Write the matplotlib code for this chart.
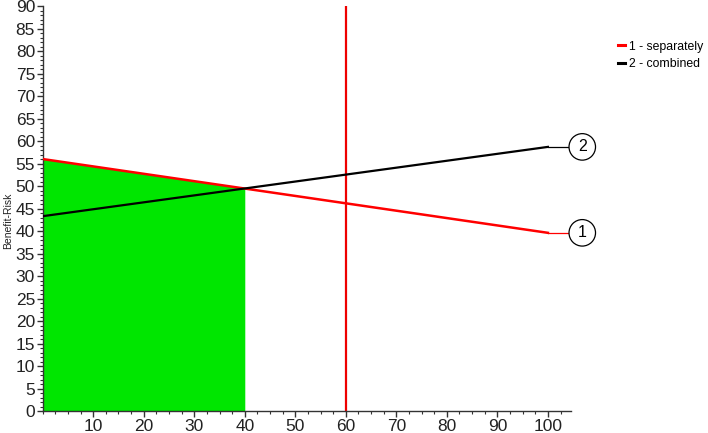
import matplotlib
matplotlib.use("Agg")
import matplotlib.pyplot as plt
from matplotlib.ticker import MultipleLocator
import numpy as np

plt.rcParams['font.family'] = ['Liberation Sans', 'DejaVu Sans']

x_vals = [0, 100]
separately = [56.0, 39.6]
combined = [43.3, 58.7]
series_names = ["1 - separately", "2 - combined"]
series_tags = ["1", "2"]
threshold_x = 60
fill_end = 40
x_ticks = [10, 20, 30, 40, 50, 60, 70, 80, 90, 100]
y_ticks = list(range(0, 95, 5))

fig = plt.figure(figsize=(7.08, 4.33), dpi=100)
ax = fig.add_axes([0.0603, 0.0508, 0.7457, 0.9352])

# green area under red line from 0 to 40
xf = np.linspace(0, fill_end, 50)
yf = np.interp(xf, x_vals, separately)
ax.fill_between(xf, 0, yf, color='#00e600', linewidth=0, zorder=1)

ax.plot(x_vals, separately, color='#ff0000', lw=1.8, zorder=3, label=series_names[0])
ax.plot(x_vals, combined, color='black', lw=1.6, zorder=3, label=series_names[1])
ax.axvline(threshold_x, color='#ee0000', lw=1.6, zorder=2)

# label connectors and circles
cx = 106.8
for ys, col, tag in [(separately[-1], '#ff0000', series_tags[0]), (combined[-1], 'black', series_tags[1])]:
    ax.plot([x_vals[-1], cx], [ys, ys], color=col, lw=0.9, clip_on=False, zorder=3)
    ax.text(cx, ys, tag, ha='center', va='center', fontsize=11.5, clip_on=False, zorder=5,
            bbox=dict(boxstyle='circle,pad=0.36', fc='white', ec='black', lw=0.9))

ax.set_xlim(0, 104.5)
ax.set_ylim(0, 90)
ax.set_xticks(x_ticks)
ax.set_yticks(y_ticks)
ax.xaxis.set_minor_locator(MultipleLocator(2.5))
ax.yaxis.set_minor_locator(MultipleLocator(1))
ax.tick_params(which='major', length=4, width=1, labelsize=12.5, color='#333333', pad=1.5,
               labelcolor='#222222')
ax.tick_params(which='minor', length=2.5, width=0.8, color='#333333')
for s in ['top', 'right']:
    ax.spines[s].set_visible(False)
for s in ['left', 'bottom']:
    ax.spines[s].set_color('#333333')
    ax.spines[s].set_linewidth(1.0)

fig.text(8.5 / 708, 1 - 221 / 433, 'Benefit-Risk', rotation=90, fontsize=7.5,
         ha='center', va='center', color='#222222')

leg = fig.legend(loc='upper left', bbox_to_anchor=(0.873, 0.906), frameon=False,
                 fontsize=8.8, handlelength=0.6, handletextpad=0.3, labelspacing=0.45,
                 borderaxespad=0, borderpad=0)
for h in leg.get_lines():
    h.set_linewidth(2.2)

fig.savefig('out.png', dpi=100)
